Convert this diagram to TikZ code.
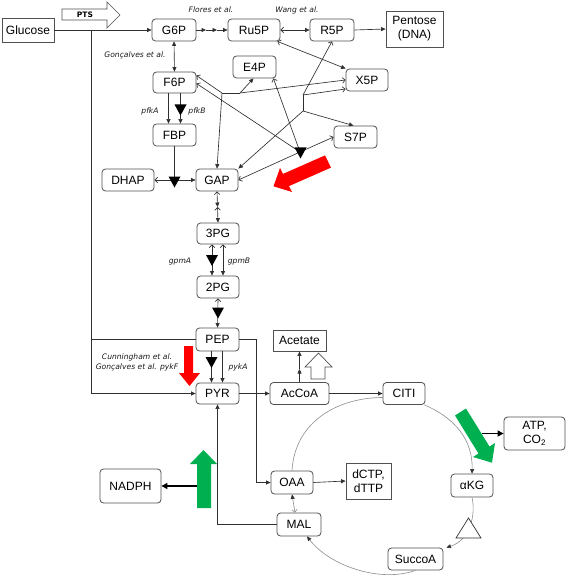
\documentclass[tikz,border=0pt]{standalone}
\usepackage{fontspec}
\setmainfont{Liberation Sans}
\newfontfamily\lblfont{DejaVu Sans}
\usetikzlibrary{arrows.meta,calc}
\definecolor{boxc}{HTML}{505050}
\definecolor{linec}{HTML}{303030}
\definecolor{cycc}{HTML}{8C8C8C}
\definecolor{gr}{HTML}{00B050}
\definecolor{rd}{HTML}{FF0000}
\tikzset{
  myF/.tip={Triangle[length=4.5pt,width=4pt]},
  myO/.tip={Straight Barb[length=2.8pt,width=5.6pt]},
  myB/.tip={Triangle[length=4.5pt,width=4pt,linec]},
  myBig/.tip={Triangle[length=6pt,width=6pt]},
  pics/dtri/.style={code={\fill[black] (-6,-5.5) -- (6,-5.5) -- (0,5.5) -- cycle;}},
}
\begin{document}
\begin{tikzpicture}[x=1pt,y=-1pt,
  box/.style={draw=boxc, line width=0.8pt, rounded corners=3.5pt, inner sep=0pt,
    font=\fontsize{12}{14}\selectfont, align=center, fill=white},
  sq/.style={box, rounded corners=0pt},
  wh/.style 2 args={minimum width=#1pt, minimum height=#2pt},
  ln/.style={draw=linec, line width=0.65pt},
  cyc/.style={draw=cycc, line width=0.6pt},
  lab/.style={font=\lblfont\itshape\fontsize{7.6}{10}\selectfont, text=black!90, inner sep=0pt},
]
\useasboundingbox (0,0) rectangle (567,580);

% ---------- nodes ----------
\node[sq, wh={52}{24}] (Glucose) at (28,30) {Glucose};
\node[box, wh={44}{22}] (G6P) at (174,30) {G6P};
\node[box, wh={52}{22}] (Ru5P) at (254,30) {Ru5P};
\node[box, wh={44}{22}] (R5P) at (332,30) {R5P};
\node[sq, wh={57}{36}] (Pentose) at (414.5,29) {Pentose\\(DNA)};
\node[box, wh={43}{22}] (E4P) at (254.5,67) {E4P};
\node[box, wh={42}{22}] (X5P) at (367,80) {X5P};
\node[box, wh={43}{22}] (S7P) at (355.5,137) {S7P};
\node[box, wh={43}{21}] (F6P) at (174.5,82.5) {F6P};
\node[box, wh={43}{22}] (FBP) at (174.5,135) {FBP};
\node[box, wh={52}{22}] (DHAP) at (128,180) {DHAP};
\node[box, wh={42}{22}] (GAP) at (217,180) {GAP};
\node[box, wh={42}{21}] (PGthree) at (218,233.5) {3PG};
\node[box, wh={42}{22}] (PGtwo) at (218,287) {2PG};
\node[box, wh={43}{23}] (PEP) at (217.5,339.5) {PEP};
\node[box, wh={43}{21}] (PYR) at (217.5,393.5) {PYR};
\node[sq, wh={53}{21}] (Acetate) at (299.5,340.5) {Acetate};
\node[box, wh={59}{22}] (AcCoA) at (299.5,393.5) {AcCoA};
\node[box, wh={42}{22}] (CITI) at (404,393.5) {CITI};
\node[box, wh={61}{33}] (ATP) at (534.5,433.5) {ATP,\\CO\textsubscript{2}};
\node[box, wh={42}{23}] (aKG) at (472,485.5) {αKG};
\node[box, wh={55}{22}] (SuccoA) at (415.5,559) {SuccoA};
\node[box, wh={44}{23}] (MAL) at (299,524.5) {MAL};
\node[box, wh={42}{23}] (OAA) at (292,482.5) {OAA};
\node[sq, wh={45}{36}] (dNTP) at (368.5,481) {dCTP,\\dTTP};
\node[box, wh={61}{34}] (NADPH) at (130.5,486) {NADPH};

% ---------- helper coordinates ----------
\coordinate (gj) at (91,30);
\coordinate (a1) at (206,30);
\coordinate (a2) at (217,30);
\coordinate (J1) at (222,93);
\coordinate (J2) at (240,93);
\coordinate (J3) at (303,95);
\coordinate (J4) at (303,111);
\coordinate (T1) at (300,152);
\coordinate (T2) at (174.5,180);
\coordinate (m1) at (217.5,207);
\coordinate (m2) at (299.5,369);
\coordinate (pk) at (256,339.5);
\coordinate (gup) at (197,486);
\coordinate (gdn) at (482,433.5);

% ---------- connectors ----------
\draw[ln,-myF] (Glucose.east) -- (G6P.west);
\draw[ln,-myF] (gj) |- (PYR.west);
\draw[ln] (gj |- PEP.west) -- (PEP.west);
\draw[ln,-myF] (G6P.east) -- (a1);
\draw[ln,-myF] (a1) -- (a2);
\draw[ln,-myF] (a2) -- (Ru5P.west);
\draw[ln,myO-myF] (Ru5P.east) -- (R5P.west);
\draw[ln,-myF] (R5P.east) -- (Pentose.west);
\draw[ln,myF-myF] (G6P.south) -- (F6P.north);
\draw[ln,-myF] ($(F6P.south)+(-6,0)$) -- ($(FBP.north)+(-6,0)$);
\draw[ln,-myF] ($(F6P.south)+(6,0)$) -- ($(FBP.north)+(6,0)$);
\pic at (180.5,110) {dtri};
\draw[ln,myO-myF] ($(Ru5P.south east)+(-3,0)$) -- ($(X5P.north west)+(0,0)$);

\draw[ln,myO-] ($(F6P.east)+(0,-7)$) -- (J1);
\draw[ln] (J1) -- (J2);
\draw[ln,-myF] (J2) -- ($(E4P.south)+(-1,0)$);
\draw[ln,-myO] (J2) -- ($(X5P.west)+(0,0)$);
\draw[ln,-myF] (J1) -- (GAP.north);
\draw[ln,myO-] (R5P.south) -- (J3);
\draw[ln,-myO] (J3) -- ($(X5P.west)+(0,9)$);
\draw[ln] (J3) -- (J4);
\draw[ln,-myF] (J4) -- ($(S7P.north)+(-2,0)$);
\draw[ln,-myF] (J4) -- (GAP.north east);

\draw[ln,myO-] ($(F6P.east)+(0,1)$) -- (T1);
\draw[ln,myO-] ($(E4P.south east)+(-3,0)$) -- (T1);
\draw[ln,-myO] (T1) -- (S7P.west);
\draw[ln,-myO] (T1) -- (GAP.east);
\pic at (300.5,153) {dtri};

\draw[ln] (FBP.south) -- (T2);
\draw[ln,-myO] (T2) -- (DHAP.east);
\draw[ln,-myF] (T2) -- (GAP.west);
\pic at (174.5,182) {dtri};

\draw[ln,myO-myF] (GAP.south) -- (m1);
\draw[ln,myO-myF] (m1) -- (PGthree.north);
\draw[ln,myO-myF] ($(PGthree.south)+(-6,0)$) -- ($(PGtwo.north)+(-6,0)$);
\pic at (212,260.5) {dtri};
\draw[ln,myO-myF] ($(PGthree.south)+(5,0)$) -- ($(PGtwo.north)+(5,0)$);
\draw[ln,myO-myF] (PGtwo.south) -- (PEP.north);
\pic at (218,313) {dtri};
\draw[ln,-myF] ($(PEP.south)+(-6,0)$) -- ($(PYR.north)+(-6,0)$);
\pic at (211.5,362.5) {dtri};
\draw[ln,-myF] ($(PEP.south)+(5,0)$) -- ($(PYR.north)+(5,0)$);

\draw[ln,-myF] (PYR.east) -- (AcCoA.west);
\draw[ln,-myF] (AcCoA.north) -- (m2);
\draw[ln,-myF] (m2) -- (Acetate.south);
\draw[ln,-myF] (AcCoA.east) -- (CITI.west);
\draw[ln,-myF] (PEP.east) -- (pk) |- (OAA.west);
\draw[ln,-myF] (MAL.west) -| (PYR.south);
\draw[ln,-myF] (OAA.east) -- (dNTP.west);

% ---------- TCA cycle ----------
\draw[cyc] (OAA.north) .. controls (295,420) and (340,397.5) .. ($(CITI.west)+(0,4)$);
\draw[cyc,-myB] ($(CITI.south east)+(-1,0)$) .. controls (455,418) and (473,440) .. (aKG.north);
\draw[cyc,-myB] (aKG.south) .. controls (476,515) and (470,540) .. ($(SuccoA.north east)+(3,0)$);
\draw[cyc,-myB] (SuccoA.south) .. controls (380,583) and (330,566) .. ($(MAL.south)+(8,0)$);
\draw[cyc,myO-myB] ($(MAL.north)+(-4,0)$) -- (OAA.south);
\draw[draw=linec, line width=0.7pt, fill=white] (456,538) -- (481,538) -- (468.5,518) -- cycle;

% ---------- block arrows ----------
\draw[boxc, line width=0.7pt, fill=white] (62,9) -- (107,9) -- (107,2) -- (120,15) -- (107,28) -- (107,20) -- (62,20) -- cycle;
\node[font=\lblfont\bfseries\fontsize{7.5}{8}\selectfont, inner sep=0pt] (PTS) at (85,14.5) {PTS};
\draw[boxc, line width=0.7pt, fill=white] (311,379) -- (311,367) -- (305,367) -- (318.5,353) -- (332,367) -- (325,367) -- (325,379) -- cycle;
\fill[rd] (325,155.4) -- (283,173.9) -- (280,168) -- (273.5,186.3) -- (292,192) -- (289,186.1) -- (331,167.6) -- cycle;
\fill[rd] (184,346) -- (193,346) -- (193,373) -- (200,373) -- (189.5,386) -- (179,373) -- (184,373) -- cycle;
\fill[gr] (197,508) -- (197,464) -- (190,464) -- (203.5,450) -- (217,464) -- (211,464) -- (211,508) -- cycle;
\fill[gr] (455,415.5) -- (478.5,453.5) -- (473,457) -- (492,462.7) -- (495,443) -- (489.5,446.5) -- (466,408.5) -- cycle;
\draw[black, line width=1.1pt, -myBig] (gup) -- (NADPH.east);
\draw[black, line width=1.1pt, -myBig] (gdn) -- (ATP.west);

% ---------- labels ----------
\node[lab] (lFlores) at (211,10) {Flores et al.};
\node[lab] (lWang) at (297,10) {Wang et al.};
\node[lab] (lGon) at (135,55) {Gonçalves et al.};
\node[lab] (lpfkA) at (150,111) {pfkA};
\node[lab] (lpfkB) at (197,111) {pfkB};
\node[lab] (lgpmA) at (180,262) {gpmA};
\node[lab] (lgpmB) at (239,262) {gpmB};
\node[lab, align=center] (lCun) at (137,362) {Cunningham et al.\\Gonçalves et al. pykF};
\node[lab] (lpykA) at (238,367) {pykA};
\end{tikzpicture}
\end{document}
